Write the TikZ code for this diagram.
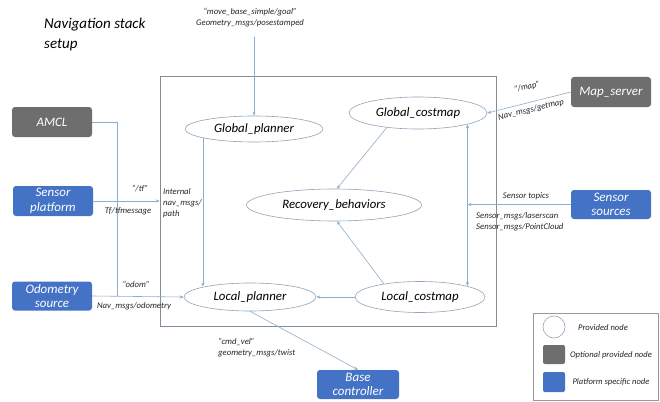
\documentclass[tikz,border=0pt]{standalone}
\usepackage{fontspec}
\setmainfont{Carlito}
\usetikzlibrary{shapes.geometric,arrows.meta,calc}
\definecolor{pblue}{HTML}{4472C4}
\definecolor{pgray}{HTML}{6E6E6E}
\definecolor{lnc}{HTML}{8EAFCB}
\definecolor{ebd}{HTML}{8FA5BA}
\definecolor{frm}{HTML}{7F8C99}
\begin{document}
\begin{tikzpicture}[x=1pt,y=-1pt,
  pnode/.style={draw=ebd, line width=0.6pt, ellipse, inner sep=0pt, font=\itshape\fontsize{12.8}{14}\selectfont},
  boxnode/.style={rounded corners=3pt, inner sep=0pt, minimum width=80pt, minimum height=30pt, text=white, align=center, font=\itshape\fontsize{13}{14.5}\selectfont},
  optbox/.style={boxnode, fill=pgray},
  platbox/.style={boxnode, fill=pblue},
  conn/.style={draw=lnc, line width=0.6pt},
  arr/.style={conn, -{Stealth[length=4pt,width=3.2pt]}},
  arrb/.style={conn, {Stealth[length=4pt,width=3.2pt]}-{Stealth[length=4pt,width=3.2pt]}},
  lbl/.style={font=\itshape\fontsize{8.7}{11}\selectfont, text=black!85, inner sep=0pt},
  legtxt/.style={font=\itshape\fontsize{8.6}{11}\selectfont, text=black!85, inner sep=0pt},
]
\useasboundingbox (0,0) rectangle (660,401);
\fill[white] (0,0) rectangle (660,401);

% title
\node[anchor=west, inner sep=0pt, align=left, font=\itshape\fontsize{15}{20}\selectfont] (title) at (44,35) {Navigation stack\\setup};

% frame
\node[draw=frm, line width=0.6pt, minimum width=336pt, minimum height=250pt, inner sep=0pt] (frame) at (328,201) {};

% provided nodes
\node[pnode, minimum width=138pt, minimum height=26pt] (gp) at (254,129) {Global\_planner};
\node[pnode, minimum width=138pt, minimum height=32pt] (gc) at (418,113) {Global\_costmap};
\node[pnode, minimum width=175pt, minimum height=32pt] (rb) at (334,205) {Recovery\_behaviors};
\node[pnode, minimum width=132pt, minimum height=28pt] (lp) at (250,297) {Local\_planner};
\node[pnode, minimum width=130pt, minimum height=31pt] (lc) at (420,297) {Local\_costmap};

% boxes
\node[optbox] (amcl) at (52,122) {AMCL};
\node[platbox] (sp) at (53,201) {Sensor\\platform};
\node[platbox, minimum height=29pt] (os) at (52,296) {Odometry\\source};
\node[optbox] (ms) at (611,92) {Map\_server};
\node[platbox, minimum height=29pt] (ss) at (611,204.5) {Sensor\\sources};
\node[platbox, minimum width=82pt, minimum height=29pt] (bc) at (358,384.5) {Base\\controller};

% connectors
\coordinate (goaltop) at (254,37);
\draw[arr] (goaltop) -- (gp.north);
\draw[arr] (gp.190) -- (gp.190 |- lp.167);
\draw[arr] (gc.205) -- (rb.80);
\draw[arr] (lc.160) -- (rb.280);
\draw[arr] (lc.west) -- (lp.east);
\draw[arrb] (gc.-13) -- (gc.-13 |- lc.13);
\draw[arr] (ss.west) -- (ss.west -| gc.-13);
\draw[arr] (ms.west) -- (gc.east);
\draw[arr] (sp.east) -- (sp.east -| frame.west);
\draw[arr] (os.east) -- (lp.west);
\coordinate (amclj) at (117,296);
\draw[conn] (amcl.east) -| (amclj);
\draw[arr] (lp.south) -- (bc.north);

% labels
\node[lbl] (l1) at (250,12) {“move\_base\_simple/goal”};
\node[lbl] (l2) at (250,23) {Geometry\_msgs/posestamped};
\node[lbl] (l3) at (140,189) {“/tf”};
\node[lbl] (l4) at (128,211) {Tf/tfmessage};
\node[lbl, anchor=north west, align=left] (l5) at (163,188) {Internal\\nav\_msgs/\\path};
\node[lbl] (l6) at (136,284) {“odom”};
\node[lbl] (l7) at (134,306) {Nav\_msgs/odometry};
\node[lbl, rotate=14] (l8) at (527,87) {“/map”};
\node[lbl, rotate=14] (l9) at (531,110) {Nav\_msgs/getmap};
\node[lbl] (l10) at (526,196) {Sensor topics};
\node[lbl, anchor=north west, align=left] (l11) at (476,212) {Sensor\_msgs/laserscan\\Sensor\_msgs/PointCloud};
\node[lbl, anchor=north west, align=left] (l12) at (218,338) {“cmd\_vel”\\geometry\_msgs/twist};

% legend
\node[draw=black!40, line width=0.5pt, minimum width=125pt, minimum height=87pt, inner sep=0pt] (leg) at (595.5,356.5) {};
\node[draw=ebd, line width=0.6pt, circle, minimum size=22pt, inner sep=0pt] (legc) at (554,327) {};
\node[fill=pgray, rounded corners=2pt, minimum width=22pt, minimum height=19pt, inner sep=0pt] (legg) at (554,354.5) {};
\node[fill=pblue, rounded corners=2pt, minimum width=22pt, minimum height=20pt, inner sep=0pt] (legb) at (554,382) {};
\node[legtxt] (t1) at (603,328) {Provided node};
\node[legtxt] (t2) at (611,355) {Optional provided node};
\node[legtxt] (t3) at (611,382) {Platform specific node};
\end{tikzpicture}
\end{document}
